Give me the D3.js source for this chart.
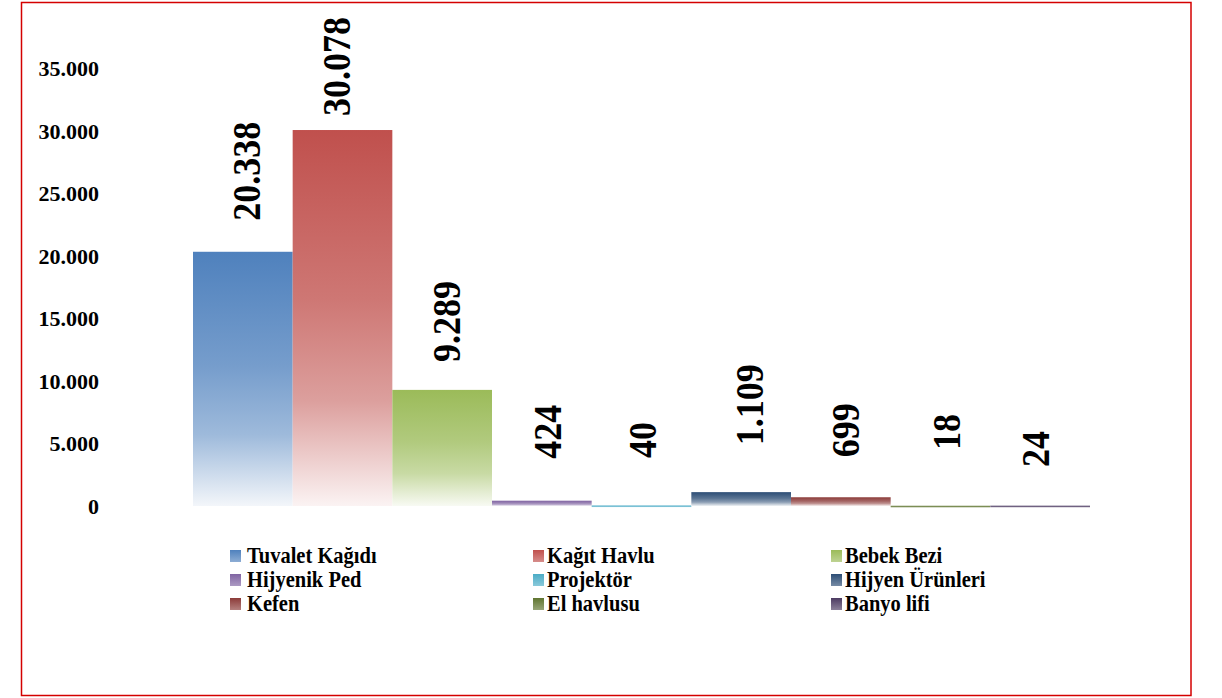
<!DOCTYPE html>
<html>
<head>
<meta charset="utf-8">
<script src="https://cdn.jsdelivr.net/npm/d3@7"></script>
<style>
  html, body { margin: 0; padding: 0; background: #fff; }
  svg { display: block; }
  text { font-family: "Liberation Serif", "Times New Roman", serif; font-weight: bold; fill: #000; }
</style>
</head>
<body>
<svg id="chart" width="1222" height="698"></svg>
<script>
// ---- data ----
const categories = ["Tuvalet Kağıdı", "Kağıt Havlu", "Bebek Bezi", "Hijyenik Ped", "Projektör",
                    "Hijyen Ürünleri", "Kefen", "El havlusu", "Banyo lifi"];
const values = [20338, 30078, 9289, 424, 40, 1109, 699, 18, 24];
const yTicks = [0, 5000, 10000, 15000, 20000, 25000, 30000, 35000];

// ---- style / layout ----
const colors = ["#4f81bd", "#c0504d", "#9bbb59", "#8064a2", "#4bacc6",
                "#2c4d75", "#8c3b39", "#5f7530", "#4d3b62"];
const labelGap = [31, 14, 28, 42, 46, 47, 40, 54, 37];
const labelShift = [4, -6, 4, 6, 1, 8, 5, 6, -5];

const svg = d3.select("#chart");
const locale = d3.formatLocale({ decimal: ",", thousands: ".", grouping: [3], currency: ["", ""] });
const fmt = locale.format(",d");

const x = d3.scaleBand().domain(categories).range([193, 1090]).padding(0);
const y = d3.scaleLinear().domain([0, 35000]).range([506, 68.5]);

// gradients
const defs = svg.append("defs");
colors.forEach((c, i) => {
  const g = defs.append("linearGradient").attr("id", "g" + i)
    .attr("x1", 0).attr("y1", 0).attr("x2", 0).attr("y2", 1);
  const base = d3.rgb(c);
  const mix = t => d3.interpolateRgb(base, "#ffffff")(t);
  g.append("stop").attr("offset", "0%").attr("stop-color", base.formatHex());
  g.append("stop").attr("offset", "45%").attr("stop-color", mix(0.22));
  g.append("stop").attr("offset", "72%").attr("stop-color", mix(0.45));
  g.append("stop").attr("offset", "100%").attr("stop-color", mix(0.93));
  const gl = defs.append("linearGradient").attr("id", "gl" + i)
    .attr("x1", 0).attr("y1", 0).attr("x2", 0).attr("y2", 1);
  gl.append("stop").attr("offset", "0%").attr("stop-color", base.formatHex());
  gl.append("stop").attr("offset", "100%").attr("stop-color", mix(0.35));
});

// frame
svg.append("rect").attr("x", 21.5).attr("y", 2.5).attr("width", 1169.5).attr("height", 693)
  .attr("fill", "#fff").attr("stroke", "#d40000").attr("stroke-width", 1.5);

// y axis labels
const yAxis = d3.axisLeft(y).tickValues(yTicks).tickFormat(fmt).tickSize(0).tickPadding(0);
const ya = svg.append("g").attr("transform", "translate(99,0)").call(yAxis);
ya.select(".domain").remove();
ya.selectAll("text").style("font-size", "22px").attr("font-family", "Liberation Serif").attr("font-weight", "bold");

// bars
svg.append("g").selectAll("rect").data(values).join("rect")
  .attr("x", (d, i) => x(categories[i]))
  .attr("y", d => y(d))
  .attr("width", x.bandwidth())
  .attr("height", d => Math.max(2, y(0) - y(d)))
  .attr("fill", (d, i) => `url(#g${i})`);

// value labels
svg.append("g").selectAll("text").data(values).join("text")
  .attr("transform", (d, i) => {
    const cx = x(categories[i]) + x.bandwidth() / 2 + labelShift[i];
    const cy = Math.min(y(d), y(0) - 2) - labelGap[i];
    return `translate(${cx},${cy}) rotate(-90) scale(1,1.1)`;
  })
  .attr("dominant-baseline", "central")
  .attr("text-anchor", "start")
  .style("font-size", "36px")
  .text(d => fmt(d));

// legend
const legX = [230, 533, 831];
const legTextX = [247, 547, 845];
const legY = [556, 580, 604];
const leg = svg.append("g").selectAll("g").data(categories).join("g")
  .attr("transform", (d, i) => `translate(0,${legY[Math.floor(i / 3)]})`);
leg.append("rect")
  .attr("x", (d, i) => legX[i % 3]).attr("y", -6).attr("width", 11).attr("height", 12)
  .attr("fill", (d, i) => `url(#gl${i})`);
leg.append("text")
  .attr("x", (d, i) => legTextX[i % 3]).attr("y", 0)
  .attr("dominant-baseline", "central")
  .attr("transform", (d, i) => `translate(${legTextX[i % 3]},0) scale(1,1.12) translate(${-legTextX[i % 3]},0)`)
  .style("font-size", "20.5px")
  .text(d => d);
</script>
</body>
</html>
